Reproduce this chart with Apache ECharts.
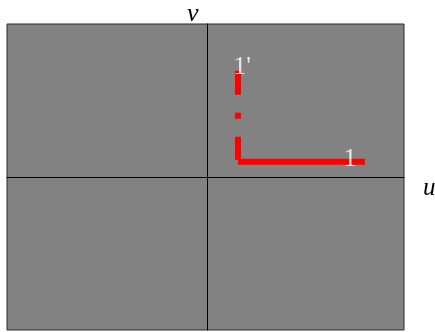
<!DOCTYPE html>
<html>
<head>
<meta charset="utf-8">
<script src="https://cdn.jsdelivr.net/npm/echarts@6/dist/echarts.min.js"></script>
<style>
  html, body { margin: 0; padding: 0; background: #ffffff; }
  #chart { width: 435px; height: 332px; }
</style>
</head>
<body>
<div id="chart"></div>
<script>
// Plane extent in (u, v) units
const uRange = [-100, 98];
const vRange = [-100, 100];

// Leg "1" runs along u, leg "1'" runs along v, both from a common corner
const legOnePath = [[15.2, 10], [78.5, 10]];
const legPrimePath = [[15.2, 69.5], [15.2, 11.3]];

// End labels of the two legs
const endLabels = ['1', "1'"];
const endPoints = [[78.5, 10], [15.2, 69.5]];

// Axis names
const axisNames = { u: 'u', v: 'v' };

const serif = "'Liberation Serif', 'Times New Roman', 'DejaVu Serif', serif";
const red = '#ff0000';

const chart = echarts.init(document.getElementById('chart'), null, { renderer: 'canvas' });

chart.setOption({
  animation: false,
  backgroundColor: '#ffffff',
  grid: {
    left: 7, right: 31, top: 24, bottom: 2,
    show: true,
    backgroundColor: '#828282',
    borderColor: '#2a2a2a',
    borderWidth: 1
  },
  xAxis: {
    type: 'value',
    min: uRange[0], max: uRange[1],
    axisLine: { show: true, onZero: true, lineStyle: { color: '#000000', width: 1 } },
    axisTick: { show: false },
    axisLabel: { show: false },
    splitLine: { show: false }
  },
  yAxis: {
    type: 'value',
    min: vRange[0], max: vRange[1],
    axisLine: { show: true, onZero: true, lineStyle: { color: '#000000', width: 1 } },
    axisTick: { show: false },
    axisLabel: { show: false },
    splitLine: { show: false }
  },
  graphic: [
    {
      type: 'text', left: 187, top: 1,
      style: { text: axisNames.v, fill: '#000000', font: 'italic 26px ' + serif }
    },
    {
      type: 'text', left: 423, top: 176,
      style: { text: axisNames.u, fill: '#000000', font: 'italic 25px ' + serif }
    }
  ],
  series: [
    {
      type: 'line',
      data: legPrimePath,
      symbol: 'none',
      lineStyle: { color: red, width: 6, type: [24, 18, 6, 18], cap: 'butt' },
      z: 3
    },
    {
      type: 'line',
      data: legOnePath,
      symbol: 'none',
      lineStyle: { color: red, width: 6, type: 'solid', cap: 'butt' },
      z: 3
    },
    {
      type: 'scatter',
      symbolSize: 0,
      z: 5,
      data: [
        {
          value: endPoints[0],
          label: {
            show: true, formatter: endLabels[0], position: 'inside',
            offset: [-15, -3], color: '#ffffff', fontSize: 26, fontFamily: serif
          }
        },
        {
          value: endPoints[1],
          label: {
            show: true, formatter: endLabels[1], position: 'inside',
            offset: [4, -3], color: '#ffffff', fontSize: 26, fontFamily: serif
          }
        }
      ]
    }
  ]
});
</script>
</body>
</html>
